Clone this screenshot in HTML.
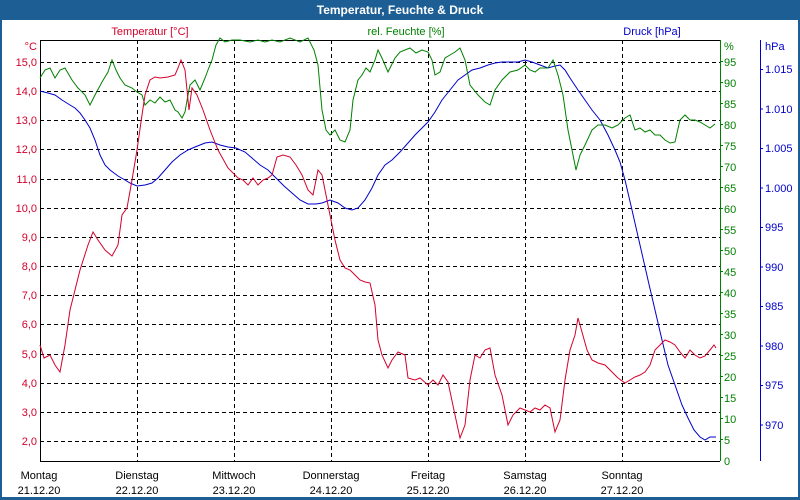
<!DOCTYPE html>
<html><head><meta charset="utf-8"><style>
html,body{margin:0;padding:0;background:#fff}
svg{display:block;font-family:"Liberation Sans",sans-serif}
</style></head><body>
<svg width="800" height="500" viewBox="0 0 800 500" xmlns="http://www.w3.org/2000/svg">
<rect x="0" y="0" width="800" height="500" fill="#1d5f94"/>
<rect x="2" y="20" width="796" height="477" fill="#fff"/>
<text x="400" y="14" fill="#fff" font-size="12" font-weight="bold" text-anchor="middle">Temperatur, Feuchte &amp; Druck</text>
<g stroke="#000" stroke-width="1" stroke-dasharray="4,3" fill="none">
<path d="M40 62.5H720M40 91.5H720M40 120.5H720M40 149.5H720M40 179.5H720M40 208.5H720M40 237.5H720M40 266.5H720M40 295.5H720M40 324.5H720M40 354.5H720M40 383.5H720M40 412.5H720M40 441.5H720"/>
<path d="M137.5 40V461M234.5 40V461M331.5 40V461M428.5 40V461M525.5 40V461M622.5 40V461"/>
</g>
<path d="M40.5 40V461.5H720" stroke="#000" fill="none"/>
<path d="M40 40.5H720" stroke="#000" fill="none"/>
<path d="M720.5 40V461" stroke="#008000" fill="none"/>
<path d="M760.5 40V461" stroke="#0000cc" fill="none"/>
<g fill="#d4002a" font-size="11" text-anchor="end">
<text x="37" y="50">°C</text>
<text x="37" y="66">15,0</text><text x="37" y="95">14,0</text><text x="37" y="124">13,0</text><text x="37" y="153">12,0</text><text x="37" y="183">11,0</text><text x="37" y="212">10,0</text><text x="37" y="241">9,0</text><text x="37" y="270">8,0</text><text x="37" y="299">7,0</text><text x="37" y="328">6,0</text><text x="37" y="358">5,0</text><text x="37" y="387">4,0</text><text x="37" y="416">3,0</text><text x="37" y="445">2,0</text>
<text x="150" y="35" text-anchor="middle">Temperatur [°C]</text>
</g>
<g fill="#008000" font-size="11">
<text x="406" y="35" text-anchor="middle">rel. Feuchte [%]</text>
<text x="724" y="50">%</text>
<text x="724" y="66">95</text><text x="724" y="87">90</text><text x="724" y="108">85</text><text x="724" y="129">80</text><text x="724" y="150">75</text><text x="724" y="171">70</text><text x="724" y="192">65</text><text x="724" y="213">60</text><text x="724" y="234">55</text><text x="724" y="255">50</text><text x="724" y="276">45</text><text x="724" y="297">40</text><text x="724" y="318">35</text><text x="724" y="339">30</text><text x="724" y="360">25</text><text x="724" y="381">20</text><text x="724" y="402">15</text><text x="724" y="423">10</text><text x="724" y="444">5</text><text x="724" y="465">0</text>
</g>
<g stroke="#008000"><path d="M720 61.5h3M720 82.5h3M720 103.5h3M720 124.5h3M720 145.5h3M720 166.5h3M720 187.5h3M720 208.5h3M720 229.5h3M720 250.5h3M720 271.5h3M720 292.5h3M720 313.5h3M720 334.5h3M720 355.5h3M720 376.5h3M720 397.5h3M720 418.5h3M720 439.5h3"/></g>
<g stroke="#0000cc"><path d="M760 69.5h3M760 109h3M760 148.5h3M760 188h3M760 227.5h3M760 267h3M760 306.5h3M760 346h3M760 385.5h3M760 425h3"/></g>
<g fill="#0000cc" font-size="11">
<text x="652" y="35" text-anchor="middle">Druck [hPa]</text>
<text x="765" y="50">hPa</text>
<text x="765" y="73">1.015</text><text x="765" y="113">1.010</text><text x="765" y="152">1.005</text><text x="765" y="192">1.000</text><text x="765" y="231">995</text><text x="765" y="271">990</text><text x="765" y="310">985</text><text x="765" y="350">980</text><text x="765" y="389">975</text><text x="765" y="429">970</text>
</g>
<g fill="#000" font-size="11" text-anchor="middle">
<text x="39" y="479">Montag</text><text x="39" y="494">21.12.20</text>
<text x="137" y="479">Dienstag</text><text x="137" y="494">22.12.20</text>
<text x="234" y="479">Mittwoch</text><text x="234" y="494">23.12.20</text>
<text x="331" y="479">Donnerstag</text><text x="331" y="494">24.12.20</text>
<text x="428" y="479">Freitag</text><text x="428" y="494">25.12.20</text>
<text x="525" y="479">Samstag</text><text x="525" y="494">26.12.20</text>
<text x="622" y="479">Sonntag</text><text x="622" y="494">27.12.20</text>
</g>
<polyline fill="none" stroke="#0000cc" stroke-width="1" points="40,91 48,93 55,95 62,100 70,105 75,108 80,113 85,120 90,128 95,140 100,155 105,165 110,170 118,176 125,180 130,183 137,186 145,185 152,183 158,178 165,170 172,162 180,155 188,150 195,147 205,143 212,142 220,145 228,147 236,148 245,152 252,158 260,165 268,170 276,178 284,186 292,193 300,200 308,204 316,204 322,203 330,200 338,203 345,208 352,210 358,208 365,200 372,188 378,175 385,165 392,160 400,152 408,143 415,135 422,128 428,122 435,112 442,100 450,90 458,80 465,75 472,70 480,68 488,65 495,63 502,62 510,62 518,62 525,60 532,62 540,65 548,68 555,66 560,65 565,70 570,78 578,90 585,100 592,110 600,120 608,135 615,150 620,162 625,180 632,210 640,245 648,280 655,310 662,340 668,365 675,385 682,405 688,418 694,430 700,437 705,440 710,437 716,437"/>
<polyline fill="none" stroke="#008000" stroke-width="1" points="40,78 45,70 50,68 55,78 60,70 65,68 72,80 78,88 85,95 90,105 95,95 102,82 108,72 112,60 116,70 120,78 125,85 132,88 137,92 142,95 145,105 150,100 155,103 160,97 165,102 170,100 175,110 178,112 182,118 185,112 188,95 190,85 195,80 200,90 205,78 208,70 212,60 216,45 220,38 225,42 232,40 240,40 250,42 258,40 265,42 272,40 280,42 290,38 300,42 308,38 314,50 318,65 322,110 326,130 330,135 335,130 340,140 345,142 350,130 353,100 358,80 362,75 366,68 370,72 375,60 378,50 382,58 388,72 395,58 400,52 405,50 410,48 416,53 422,50 428,52 432,60 435,75 440,72 445,58 450,55 455,52 460,48 465,60 470,85 478,95 485,102 490,105 495,90 502,80 510,72 518,70 525,65 530,70 535,72 540,68 548,68 553,60 558,75 563,95 568,130 572,150 576,170 580,155 585,145 592,130 598,125 605,125 612,128 618,125 625,118 630,115 635,130 640,128 645,132 650,130 655,135 660,135 665,140 670,143 675,142 680,120 685,115 690,120 695,120 700,122 705,125 710,128 715,124"/>
<polyline fill="none" stroke="#d4002a" stroke-width="1" points="40,345 44,358 50,355 55,365 60,372 65,345 70,310 75,290 80,270 88,245 93,232 98,240 105,250 112,256 118,245 122,215 127,208 132,180 137,150 142,115 145,95 150,80 155,77 160,78 168,77 175,75 178,68 181,60 185,70 189,110 192,88 197,95 203,110 210,130 218,150 228,168 238,178 243,180 248,185 253,178 258,185 263,180 268,178 272,175 277,157 283,155 290,157 296,165 302,175 308,190 313,195 318,170 322,175 325,190 330,215 335,240 340,260 345,268 350,270 355,275 360,280 365,282 370,283 375,305 378,340 382,355 388,368 392,360 398,352 405,355 408,378 415,380 420,378 428,385 433,380 438,385 443,375 448,382 455,415 460,438 465,425 470,380 475,355 480,358 485,350 490,348 495,375 502,395 508,425 513,415 520,408 525,410 530,412 535,408 540,410 545,405 550,408 555,432 560,420 565,380 570,350 575,335 578,318 582,332 587,350 592,360 598,363 605,365 612,372 618,378 625,383 630,380 635,377 640,375 645,372 650,365 655,350 660,345 665,340 670,342 675,345 680,352 685,358 690,350 695,355 700,358 705,356 710,350 714,345 716,348"/>
</svg>
</body></html>
